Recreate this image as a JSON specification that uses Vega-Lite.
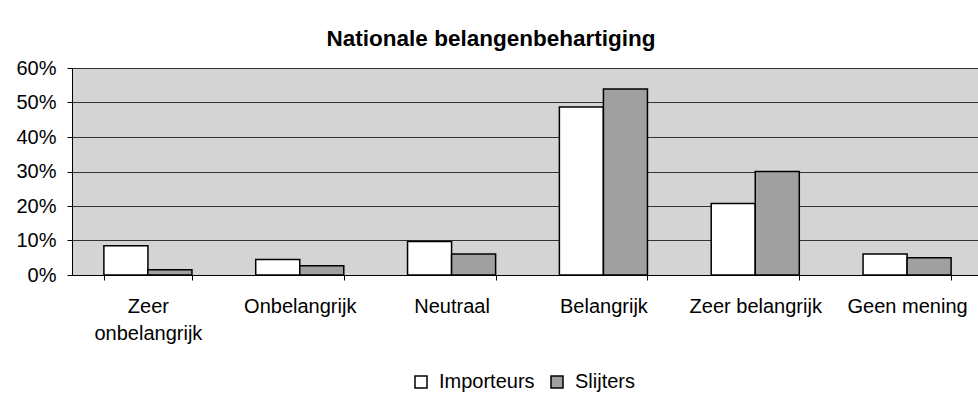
{
  "$schema": "https://vega.github.io/schema/vega-lite/v6.json",
  "autosize": "none",
  "width": 906,
  "height": 207,
  "padding": {"left": 72, "top": 68, "right": 0, "bottom": 128},
  "background": "white",
  "title": {
    "text": "Nationale belangenbehartiging",
    "font": "Liberation Sans",
    "fontSize": 22.5,
    "fontWeight": "bold",
    "color": "black",
    "anchor": "middle",
    "dx": -34,
    "offset": 8
  },
  "data": {
    "values": [
      {"categorie": "Zeer onbelangrijk", "groep": "Importeurs", "waarde": 0.085},
      {"categorie": "Zeer onbelangrijk", "groep": "Slijters", "waarde": 0.015},
      {"categorie": "Onbelangrijk", "groep": "Importeurs", "waarde": 0.045},
      {"categorie": "Onbelangrijk", "groep": "Slijters", "waarde": 0.027},
      {"categorie": "Neutraal", "groep": "Importeurs", "waarde": 0.097},
      {"categorie": "Neutraal", "groep": "Slijters", "waarde": 0.061},
      {"categorie": "Belangrijk", "groep": "Importeurs", "waarde": 0.487},
      {"categorie": "Belangrijk", "groep": "Slijters", "waarde": 0.539},
      {"categorie": "Zeer belangrijk", "groep": "Importeurs", "waarde": 0.207},
      {"categorie": "Zeer belangrijk", "groep": "Slijters", "waarde": 0.300},
      {"categorie": "Geen mening", "groep": "Importeurs", "waarde": 0.061},
      {"categorie": "Geen mening", "groep": "Slijters", "waarde": 0.050}
    ]
  },
  "mark": {"type": "bar", "stroke": "black", "strokeWidth": 1.5},
  "encoding": {
    "x": {
      "field": "categorie",
      "type": "nominal",
      "sort": ["Zeer onbelangrijk", "Onbelangrijk", "Neutraal", "Belangrijk", "Zeer belangrijk", "Geen mening"],
      "scale": {"range": [0, 911], "paddingInner": 0.42, "paddingOuter": 0.21},
      "axis": {
        "title": null,
        "labelAngle": 0,
        "tickBand": "extent",
        "domainColor": "black",
        "tickColor": "black",
        "tickSize": 5,
        "labelFont": "Liberation Sans",
        "labelFontSize": 20,
        "labelColor": "black",
        "labelPadding": 16,
        "labelLineHeight": 27,
        "labelExpr": "datum.label == 'Zeer onbelangrijk' ? ['Zeer', 'onbelangrijk'] : datum.label",
        "grid": false
      }
    },
    "xOffset": {
      "field": "groep",
      "type": "nominal",
      "sort": ["Importeurs", "Slijters"],
      "scale": {"paddingInner": 0, "paddingOuter": 0}
    },
    "y": {
      "field": "waarde",
      "type": "quantitative",
      "scale": {"domain": [0, 0.6], "nice": false},
      "axis": {
        "title": null,
        "format": ".0%",
        "values": [0, 0.1, 0.2, 0.3, 0.4, 0.5, 0.6],
        "grid": true,
        "gridColor": "#333333",
        "gridWidth": 1,
        "domainColor": "black",
        "tickColor": "black",
        "tickSize": 5,
        "labelFont": "Liberation Sans",
        "labelFontSize": 20,
        "labelColor": "black",
        "labelPadding": 11
      }
    },
    "fill": {
      "field": "groep",
      "type": "nominal",
      "sort": ["Importeurs", "Slijters"],
      "scale": {"domain": ["Importeurs", "Slijters"], "range": ["#FFFFFF", "#A0A0A0"]},
      "legend": {
        "title": null,
        "orient": "none",
        "legendX": 339,
        "legendY": 304,
        "direction": "horizontal",
        "symbolType": "square",
        "symbolSize": 144,
        "symbolStrokeColor": "black",
        "symbolStrokeWidth": 1.5,
        "symbolOpacity": 1,
        "labelFont": "Liberation Sans",
        "labelFontSize": 20,
        "labelColor": "black",
        "labelOffset": 8,
        "columnPadding": 12
      }
    }
  },
  "config": {
    "view": {"fill": "#D4D4D4", "stroke": "#999999", "strokeWidth": 1}
  }
}
